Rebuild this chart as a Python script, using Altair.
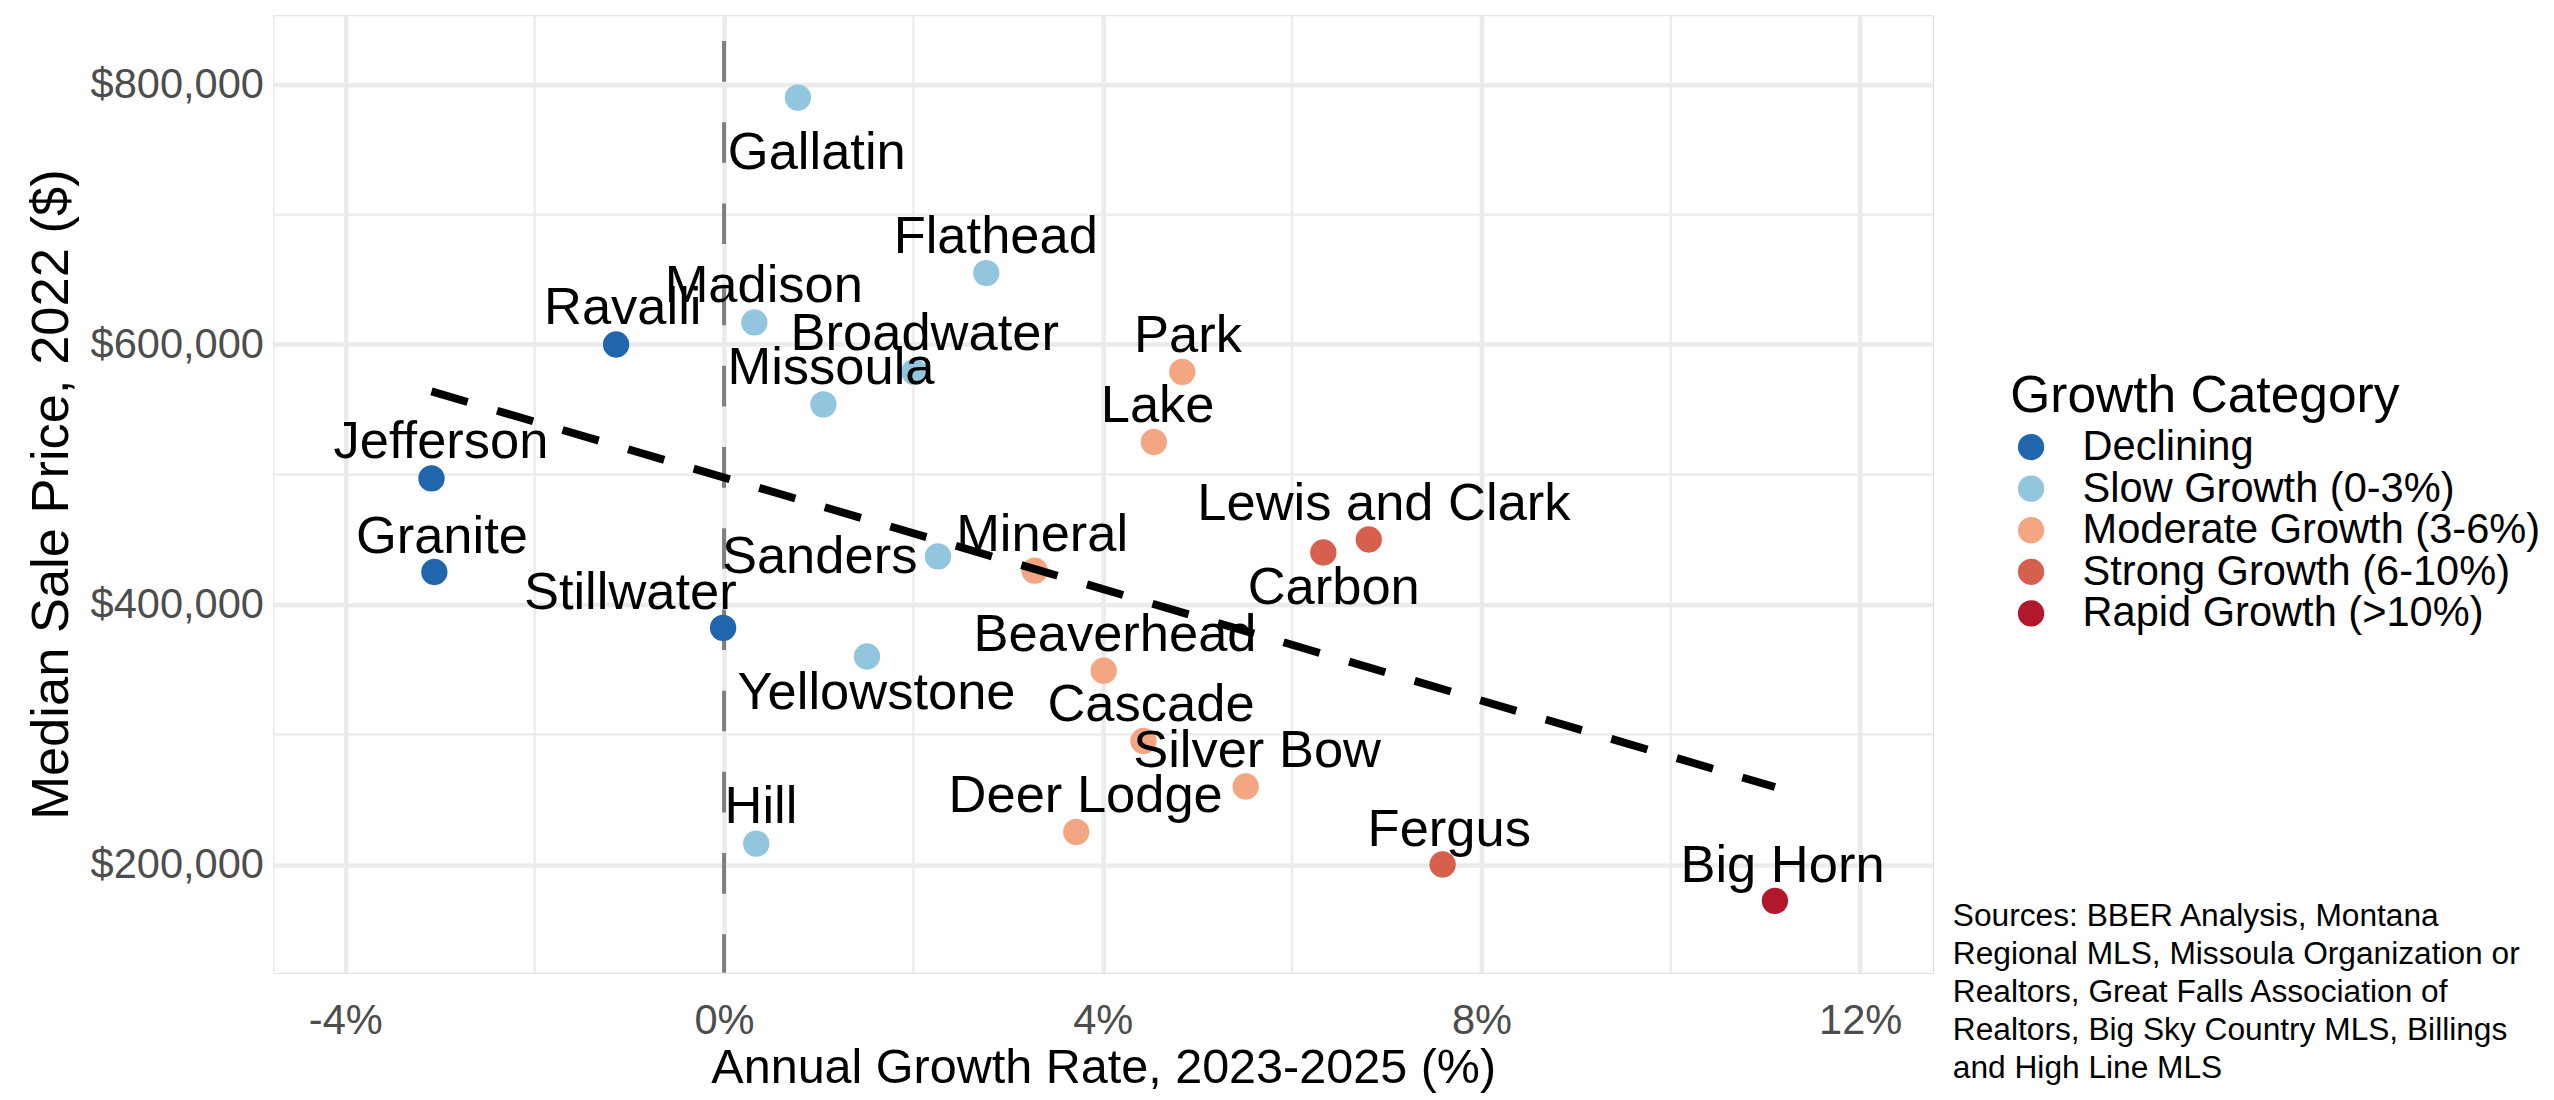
import altair as alt
import pandas as pd

counties = ["Gallatin", "Madison", "Ravalli", "Flathead", "Broadwater", "Missoula",
            "Park", "Lake", "Jefferson", "Lewis and Clark", "Carbon", "Granite",
            "Sanders", "Mineral", "Stillwater", "Yellowstone", "Beaverhead", "Cascade",
            "Silver Bow", "Deer Lodge", "Hill", "Fergus", "Big Horn"]
growth = [0.78, 0.32, -1.14, 2.77, 2.01, 1.05, 4.84, 4.54, -3.09, 6.81, 6.33, -3.06,
          2.26, 3.28, -0.01, 1.51, 4.01, 4.43, 5.51, 3.72, 0.34, 7.59, 11.10]
price = [790000, 617000, 600000, 655000, 579000, 554000, 579000, 525000, 497000,
         450000, 440000, 425000, 437000, 426000, 382000, 360000, 349000, 295000,
         260000, 225000, 216000, 200000, 172000]
category = ["Slow Growth (0-3%)", "Slow Growth (0-3%)", "Declining", "Slow Growth (0-3%)",
            "Slow Growth (0-3%)", "Slow Growth (0-3%)", "Moderate Growth (3-6%)",
            "Moderate Growth (3-6%)", "Declining", "Strong Growth (6-10%)",
            "Strong Growth (6-10%)", "Declining", "Slow Growth (0-3%)",
            "Moderate Growth (3-6%)", "Declining", "Slow Growth (0-3%)",
            "Moderate Growth (3-6%)", "Moderate Growth (3-6%)", "Moderate Growth (3-6%)",
            "Moderate Growth (3-6%)", "Slow Growth (0-3%)", "Strong Growth (6-10%)",
            "Rapid Growth (>10%)"]
# label anchor positions (repelled labels), in data units
label_x = [0.98, 0.42, -1.07, 2.87, 2.12, 1.13, 4.90, 4.58, -2.99, 6.97, 6.44, -2.98,
           1.01, 3.36, -0.99, 1.61, 4.13, 4.51, 5.63, 3.82, 0.39, 7.66, 11.18]
label_y = [749700, 647200, 630100, 684600, 610300, 583900, 608800, 554700, 527200,
           479200, 415200, 454100, 438900, 455600, 411000, 333700, 378700, 324600,
           289500, 254500, 246100, 228900, 201100]

categories = ["Declining", "Slow Growth (0-3%)", "Moderate Growth (3-6%)",
              "Strong Growth (6-10%)", "Rapid Growth (>10%)"]
cat_colors = ["#2166AC", "#92C5DE", "#F4A582", "#D6604D", "#B2182B"]

x_major = [-4, 0, 4, 8, 12]
x_minor = [-2, 2, 6, 10]
y_major = [200000, 400000, 600000, 800000]
y_minor = [300000, 500000, 700000]
zero_line = [0]

caption_lines = ["Sources: BBER Analysis, Montana",
                 "Regional MLS, Missoula Organization or",
                 "Realtors, Great Falls Association of",
                 "Realtors, Big Sky Country MLS, Billings",
                 "and High Line MLS"]

df = pd.DataFrame({"county": counties, "growth": growth, "price": price,
                   "category": category, "label_x": label_x, "label_y": label_y})

FONT = "Liberation Sans"
W, H = 1676, 967

xscale = alt.Scale(domain=[-4.76, 12.77], nice=False, zero=False)
yscale = alt.Scale(domain=[116600, 853300], nice=False, zero=False)

xaxis = alt.Axis(values=x_major, labelExpr="datum.value + '%'",
                 title="Annual Growth Rate, 2023-2025 (%)",
                 grid=True, gridColor="#EBEBEB", gridWidth=4.6,
                 domain=False, ticks=False, tickSize=0,
                 labelFontSize=42, labelColor="#4D4D4D", labelPadding=28,
                 labelFont=FONT, titleFont=FONT, titleFontSize=49,
                 titleFontWeight="normal", titleColor="black", titlePadding=3)
yaxis = alt.Axis(values=y_major, labelExpr="'$' + format(datum.value, ',')",
                 title="Median Sale Price, 2022 ($)",
                 grid=True, gridColor="#EBEBEB", gridWidth=4.6,
                 domain=False, ticks=False, tickSize=0,
                 labelFontSize=42, labelColor="#4D4D4D", labelPadding=10,
                 labelFont=FONT, titleFont=FONT, titleFontSize=53,
                 titleFontWeight="normal", titleColor="black", titlePadding=12)

minor_x = alt.Chart(pd.DataFrame({"v": x_minor})).mark_rule(
    color="#EBEBEB", strokeWidth=2.3).encode(
    x=alt.X("v:Q", scale=xscale, axis=xaxis))
minor_y = alt.Chart(pd.DataFrame({"v": y_minor})).mark_rule(
    color="#EBEBEB", strokeWidth=2.3).encode(
    y=alt.Y("v:Q", scale=yscale, axis=yaxis))

vline = alt.Chart(pd.DataFrame({"v": zero_line})).mark_rule(
    color="#7F7F7F", strokeWidth=4, strokeDash=[41, 41], strokeDashOffset=56).encode(
    x=alt.X("v:Q", scale=xscale, axis=xaxis))

points = alt.Chart(df).mark_circle(size=707, opacity=1).encode(
    x=alt.X("growth:Q", scale=xscale, axis=xaxis),
    y=alt.Y("price:Q", scale=yscale, axis=yaxis),
    color=alt.Color("category:N",
                    scale=alt.Scale(domain=categories, range=cat_colors),
                    sort=categories,
                    legend=alt.Legend(title="Growth Category", orient="none",
                                      legendX=1754, legendY=360,
                                      titleFont=FONT, titleFontSize=52,
                                      titleFontWeight="normal", titleColor="black",
                                      titlePadding=3, titleLimit=1000,
                                      labelFont=FONT, labelFontSize=42,
                                      labelColor="black", labelOffset=31,
                                      symbolType="circle", symbolSize=707,
                                      symbolOpacity=1, symbolStrokeWidth=0,
                                      rowPadding=0, labelLimit=1000)))

trend = alt.Chart(df).transform_regression("growth", "price").mark_line(
    color="black", strokeWidth=8, strokeDash=[38, 31], strokeCap="butt").encode(
    x=alt.X("growth:Q", scale=xscale, axis=xaxis),
    y=alt.Y("price:Q", scale=yscale, axis=yaxis))

labels = alt.Chart(df).mark_text(
    font=FONT, fontSize=53, color="black", align="center", baseline="middle", dy=3).encode(
    x=alt.X("label_x:Q", scale=xscale, axis=xaxis),
    y=alt.Y("label_y:Q", scale=yscale, axis=yaxis),
    text="county:N")

caption = alt.Chart(pd.DataFrame({"c": [1]})).mark_text(
    text=caption_lines, font=FONT, fontSize=32, color="black",
    align="left", baseline="middle", lineHeight=38.3).encode(
    x=alt.value(1696), y=alt.value(910))

chart = alt.layer(minor_x, minor_y, vline, points, trend, labels, caption).properties(
    width=W, height=H,
    padding={"left": 17, "top": 0, "right": 5, "bottom": 0},
    background="white",
).configure_view(stroke=None).configure(font=FONT)

chart.save("out.html", embed_options={"renderer": "svg", "actions": False})
